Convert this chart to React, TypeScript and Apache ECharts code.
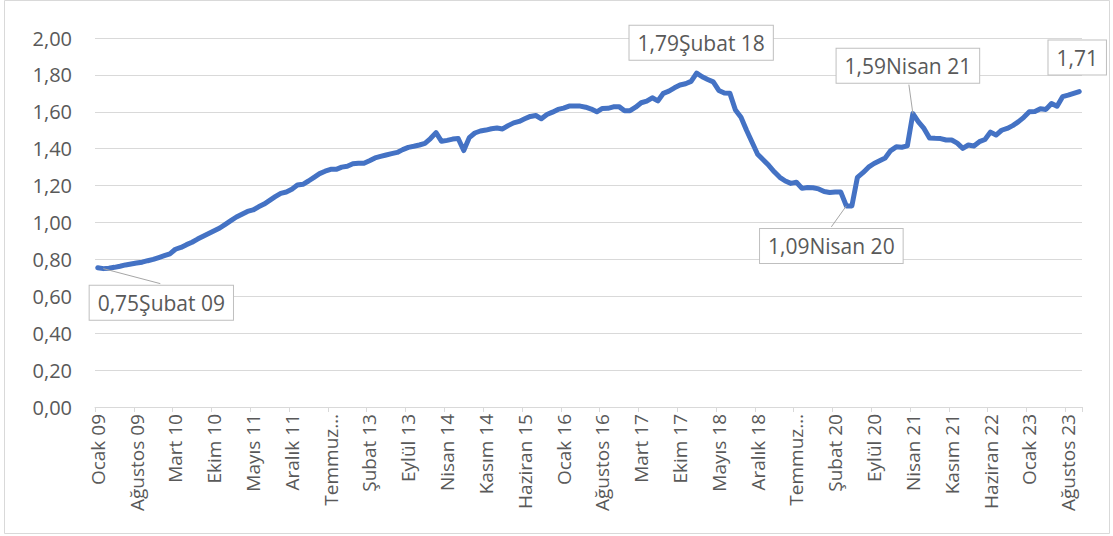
import React, { useEffect, useRef } from "react";
import * as echarts from "echarts";

const MONTHS = ["Ocak", "Şubat", "Mart", "Nisan", "Mayıs", "Haziran", "Temmuz", "Ağustos", "Eylül", "Ekim", "Kasım", "Aralık"];
const YEARS = ["09", "10", "11", "12", "13", "14", "15", "16", "17", "18", "19", "20", "21", "22", "23"];

const v2009 = [0.755, 0.75, 0.752, 0.757, 0.763, 0.77, 0.775, 0.78, 0.785, 0.793, 0.8, 0.81];
const v2010 = [0.82, 0.83, 0.855, 0.865, 0.88, 0.893, 0.91, 0.925, 0.94, 0.955, 0.97, 0.99];
const v2011 = [1.01, 1.03, 1.045, 1.06, 1.068, 1.085, 1.1, 1.12, 1.14, 1.158, 1.165, 1.18];
const v2012 = [1.203, 1.207, 1.225, 1.245, 1.265, 1.278, 1.288, 1.288, 1.3, 1.305, 1.318, 1.321];
const v2013 = [1.321, 1.335, 1.35, 1.358, 1.366, 1.373, 1.38, 1.395, 1.407, 1.413, 1.42, 1.429];
const v2014 = [1.455, 1.487, 1.44, 1.445, 1.452, 1.455, 1.39, 1.46, 1.485, 1.496, 1.501, 1.508];
const v2015 = [1.512, 1.507, 1.525, 1.54, 1.548, 1.562, 1.575, 1.58, 1.562, 1.585, 1.598, 1.613];
const v2016 = [1.62, 1.631, 1.631, 1.631, 1.625, 1.615, 1.6, 1.618, 1.619, 1.627, 1.628, 1.606];
const v2017 = [1.606, 1.625, 1.649, 1.658, 1.676, 1.659, 1.7, 1.712, 1.73, 1.745, 1.752, 1.765];
const v2018 = [1.81, 1.79, 1.775, 1.762, 1.716, 1.702, 1.7, 1.61, 1.57, 1.5, 1.435, 1.37];
const v2019 = [1.34, 1.31, 1.275, 1.245, 1.225, 1.212, 1.218, 1.185, 1.19, 1.188, 1.182, 1.168];
const v2020 = [1.163, 1.165, 1.165, 1.09, 1.09, 1.245, 1.27, 1.3, 1.32, 1.335, 1.35, 1.39];
const v2021 = [1.41, 1.408, 1.415, 1.59, 1.545, 1.51, 1.458, 1.456, 1.455, 1.447, 1.447, 1.43];
const v2022 = [1.402, 1.42, 1.415, 1.438, 1.45, 1.49, 1.474, 1.5, 1.51, 1.525, 1.545, 1.57];
const v2023 = [1.6, 1.602, 1.617, 1.613, 1.645, 1.63, 1.682, 1.69, 1.7, 1.71];

const YEAR_VALUES = [v2009, v2010, v2011, v2012, v2013, v2014, v2015, v2016, v2017, v2018, v2019, v2020, v2021, v2022, v2023];

// annotated points: index, whether the month name is appended
const ANNOT_INDEX = [1, 109, 135, 147, 177];
const ANNOT_WITH_MONTH = [true, true, true, true, false];

const categories: string[] = [];
const values: number[] = [];
YEAR_VALUES.forEach((arr, yi) => {
  arr.forEach((v, mi) => {
    categories.push(`${MONTHS[mi]} ${YEARS[yi]}`);
    values.push(v);
  });
});

const fmt = (v: number) => v.toFixed(2).replace(".", ",");

const FONT = "Open Sans";
const TEXT_COLOR = "#595959";
const GRID_COLOR = "#d9d9d9";

// layout offsets for annotation boxes (pixels, relative to point)
const BOX_OFFSETS: [number, number][] = [[58, 34], [-1, -34], [-15, 40], [-5, -48], [-2, -34]];
const LEADER_TO: ([number, number] | null)[] = [[57, 15], null, [-15, 21], [-4, -29], null];

export default function App() {
  const ref = useRef<HTMLDivElement>(null);
  useEffect(() => {
    if (!ref.current) return;
    const chart = echarts.init(ref.current, null, { renderer: "svg" });
    chart.setOption({
      animation: false,
      backgroundColor: "#ffffff",
      grid: { left: 95, right: 31, top: 38, bottom: 129, containLabel: false },
      xAxis: {
        type: "category",
        data: categories,
        boundaryGap: true,
        axisLine: { show: true, lineStyle: { color: GRID_COLOR, width: 1 } },
        axisTick: { show: true, interval: 6, length: 5, lineStyle: { color: GRID_COLOR } },
        axisLabel: {
          interval: 6,
          rotate: 90,
          margin: 7,
          color: TEXT_COLOR,
          fontFamily: FONT,
          fontSize: 19,
          formatter: (v: string) => (v.startsWith("Temmuz") ? "Temmuz…" : v),
        },
        splitLine: { show: false },
      },
      yAxis: {
        type: "value",
        min: 0,
        max: 2,
        interval: 0.2,
        axisLine: { show: false },
        axisTick: { show: false },
        axisLabel: {
          margin: 23,
          color: TEXT_COLOR,
          fontFamily: FONT,
          fontSize: 20,
          formatter: (v: number) => fmt(v),
        },
        splitLine: { show: true, lineStyle: { color: GRID_COLOR, width: 1 } },
      },
      series: [
        {
          type: "line",
          data: values,
          showSymbol: false,
          symbol: "none",
          lineStyle: { color: "#4472C4", width: 5, cap: "round", join: "round" },
        },
      ],
    });

    const graphics: any[] = [
      {
        type: "rect",
        shape: { x: 4.5, y: 0.5, width: 1105, height: 533 },
        style: { fill: "none", stroke: GRID_COLOR, lineWidth: 1 },
        z: 0,
      },
    ];
    ANNOT_INDEX.forEach((idx, k) => {
      const p = chart.convertToPixel({ seriesIndex: 0 }, [idx, values[idx]]) as number[];
      const text = fmt(values[idx]) + (ANNOT_WITH_MONTH[k] ? categories[idx] : "");
      const lt = LEADER_TO[k];
      if (lt) {
        graphics.push({
          type: "line",
          shape: { x1: p[0], y1: p[1], x2: p[0] + lt[0], y2: p[1] + lt[1] },
          style: { stroke: "#a6a6a6", lineWidth: 1 },
          z: 10,
        });
      }
      const off = BOX_OFFSETS[k];
      graphics.push({
        type: "text",
        x: p[0] + off[0],
        y: p[1] + off[1],
        z: 11,
        style: {
          text,
          fill: TEXT_COLOR,
          font: `21px "${FONT}"`,
          align: "center",
          verticalAlign: "middle",
          backgroundColor: "#ffffff",
          borderColor: "#bfbfbf",
          borderWidth: 1,
          padding: [7, 8, 6, 8],
        },
      });
    });
    chart.setOption({ graphic: graphics });
    return () => chart.dispose();
  }, []);
  return (
    <div
      ref={ref}
      style={{ position: "fixed", left: 0, top: 0, width: 1113, height: 536 }}
    />
  );
}
